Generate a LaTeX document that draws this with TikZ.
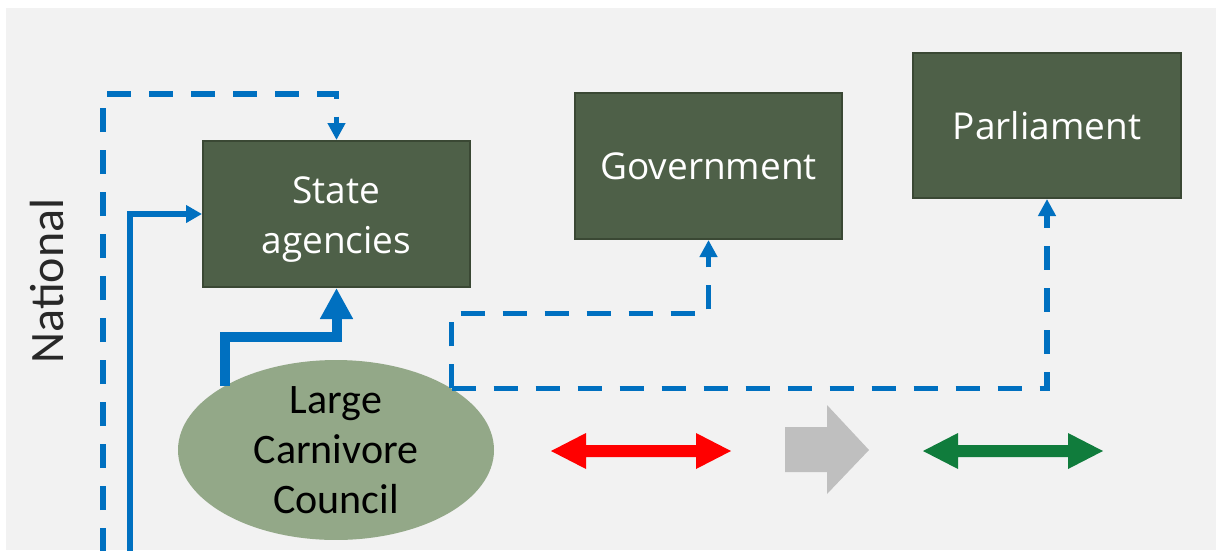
\documentclass[tikz,border=0pt]{standalone}
\usepackage{fontspec}
\setmainfont{Carlito}
\newfontfamily\boxfont{Open Sans}
\usetikzlibrary{arrows.meta,shapes.geometric}
\definecolor{bgpanel}{RGB}{242,242,242}
\definecolor{boxfill}{RGB}{78,96,72}
\definecolor{boxline}{RGB}{58,72,52}
\definecolor{ellfill}{RGB}{147,168,136}
\definecolor{linkblue}{RGB}{0,112,192}
\definecolor{arrred}{RGB}{255,0,0}
\definecolor{arrgray}{RGB}{191,191,191}
\definecolor{arrgreen}{RGB}{16,124,60}
\definecolor{labelgray}{RGB}{40,40,40}
\begin{document}
\begin{tikzpicture}[x=1pt,y=-1pt,
  orgbox/.style={draw=boxline,line width=2pt,fill=boxfill,text=white,
    minimum width=267pt,minimum height=146pt,inner sep=0pt,align=center,
    font=\boxfont\fontsize{37}{50}\selectfont},
  boxtext/.style={text=white,inner sep=0pt,align=center,
    font=\boxfont\fontsize{37}{50}\selectfont},
  council/.style={ellipse,fill=ellfill,text=black,minimum width=316pt,
    minimum height=175pt,inner sep=0pt,align=center,
    font=\fontsize{42}{50}\selectfont},
  levellabel/.style={rotate=90,text=labelgray,font=\fontsize{48}{56}\selectfont},
  mainlink/.style={draw=linkblue,line width=10pt,line join=miter,
    -{Triangle[width=31pt,length=31pt]}},
  solidlink/.style={draw=linkblue,line width=5.5pt,line join=miter,
    -{Triangle[width=17pt,length=16pt]}},
  dashlink/.style={draw=linkblue,line width=5.5pt,dash pattern=on 24pt off 18pt,
    line join=miter,-{Triangle[width=17pt,length=17pt]}}
]
\useasboundingbox (0,0) rectangle (1216,550);
\fill[white] (0,0) rectangle (1216,550);
\fill[bgpanel] (6,8) rectangle (1216,550);

% level label
\node[levellabel] (national) at (47,281) {National};

% actors
\node[orgbox,label={[boxtext,yshift=-6pt]center:{State\\agencies}}] (sa) at (336.5,214) {};
\node[orgbox] (gov) at (708.5,166) {Government};
\node[orgbox,minimum width=268pt,minimum height=145pt] (par) at (1047,125.5) {Parliament};
\node[council] (lcc) at (336,450) {Large\\Carnivore\\Council};

% connectors
\coordinate (ssb) at (130,552);
\coordinate (dsb) at (103,552);
\coordinate (dtop) at (336.5,94);

\draw[dashlink] (dsb) |- (dtop) -- (sa.north);
\draw[solidlink] (ssb) |- (sa.west);
\draw[mainlink] (lcc.150.8) -- ++(0,-49) -| (sa.south);
\draw[dashlink] (lcc.28.7) -- ++(0,-75) -| (gov.south);
\draw[dashlink] (lcc.28.7) -| (par.south);

% arrow shapes
\fill[arrred] (551,451) -- (586,433) -- (586,445) -- (696,445) -- (696,433)
  -- (731,451) -- (696,469) -- (696,457) -- (586,457) -- (586,469) -- cycle;
\fill[arrgray] (785,427) -- (827,427) -- (827,405) -- (869,450) -- (827,494)
  -- (827,472) -- (785,472) -- cycle;
\fill[arrgreen] (923,451) -- (958,433) -- (958,445) -- (1068,445) -- (1068,433)
  -- (1103,451) -- (1068,469) -- (1068,457) -- (958,457) -- (958,469) -- cycle;
\end{tikzpicture}
\end{document}
